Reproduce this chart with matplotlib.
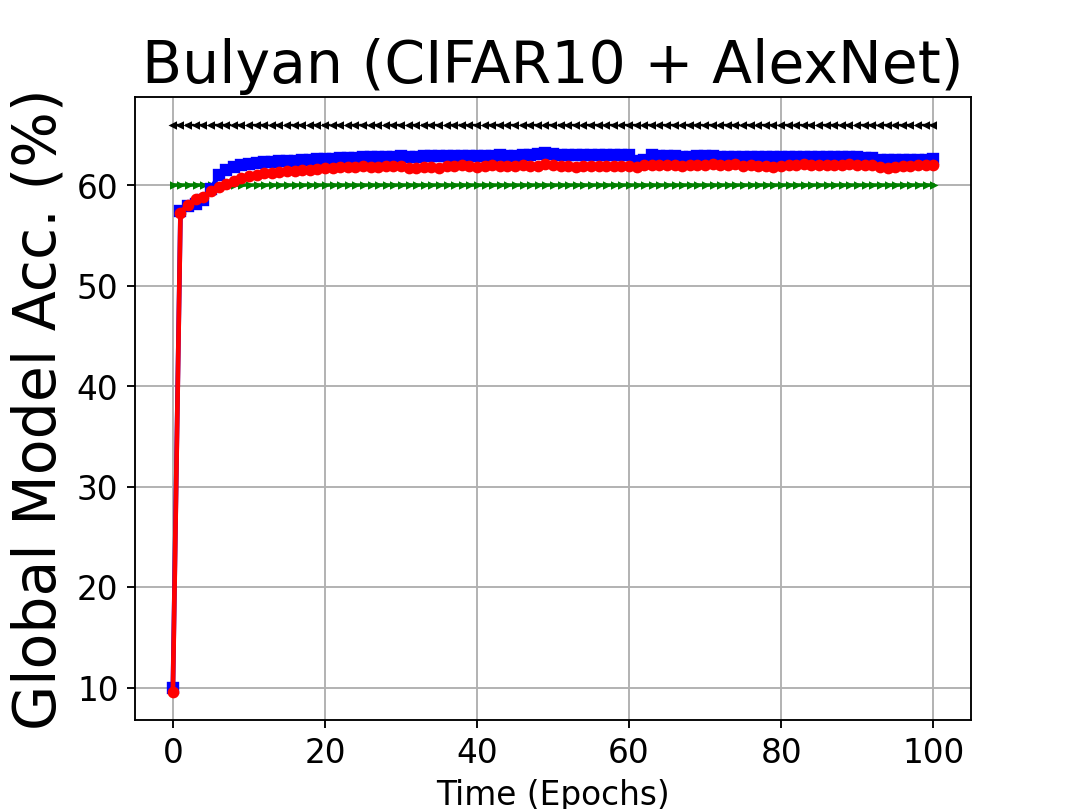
import matplotlib
matplotlib.use('Agg')
import matplotlib.pyplot as plt
import numpy as np

epochs = np.arange(0, 101)

# accuracy values
no_attack = [66.0] * 101
baseline = [60.0] * 101

blue_acc = [10.0, 57.5, 58.0, 58.2, 58.5, 59.6, 61.0, 61.5, 61.8, 62.0,
            62.1, 62.2, 62.3, 62.3, 62.4, 62.4, 62.4, 62.5, 62.5, 62.6,
            62.6, 62.6, 62.7, 62.7, 62.7, 62.8, 62.8, 62.8, 62.8, 62.8,
            62.9, 62.8, 62.8, 62.9, 62.9, 62.9, 62.9, 62.9, 62.9, 62.9,
            62.9, 62.9, 62.9, 63.0, 62.9, 62.9, 63.0, 63.0, 63.1, 63.2,
            63.1, 63.0, 63.0, 63.0, 63.0, 63.0, 63.0, 63.0, 63.0, 63.0,
            63.0, 62.4, 62.5, 63.0, 62.9, 62.9, 62.9, 62.8, 62.8, 62.9,
            62.9, 62.9, 62.8, 62.8, 62.8, 62.8, 62.8, 62.8, 62.8, 62.8,
            62.8, 62.8, 62.8, 62.8, 62.8, 62.8, 62.8, 62.8, 62.8, 62.8,
            62.8, 62.7, 62.7, 62.5, 62.5, 62.5, 62.5, 62.5, 62.5, 62.5,
            62.6]

red_acc = [9.6, 57.3, 58.1, 58.6, 58.8, 59.4, 59.8, 60.1, 60.4, 60.7,
           60.9, 61.0, 61.2, 61.2, 61.3, 61.4, 61.4, 61.5, 61.5, 61.6,
           61.7, 61.7, 61.8, 61.8, 61.8, 61.9, 61.8, 61.8, 61.9, 61.9,
           61.9, 61.7, 61.7, 61.8, 61.8, 61.7, 61.9, 61.9, 62.0, 61.9,
           61.8, 61.9, 62.0, 61.9, 61.9, 61.9, 62.0, 61.9, 61.9, 62.1,
           62.0, 61.9, 61.9, 61.8, 61.9, 61.9, 61.9, 61.9, 61.9, 61.9,
           61.9, 61.8, 62.0, 62.0, 62.0, 62.0, 62.0, 61.9, 62.0, 62.0,
           62.0, 62.1, 62.0, 62.0, 62.1, 61.9, 62.0, 61.9, 61.9, 61.8,
           61.9, 62.0, 62.0, 62.1, 62.0, 62.0, 62.0, 62.0, 62.0, 62.1,
           62.0, 62.0, 62.0, 61.8, 61.7, 61.8, 61.9, 61.9, 62.0, 62.0,
           62.0]

fig = plt.figure(figsize=(6.4, 4.8), dpi=168.6)
plt.plot(epochs, no_attack, 'k--', marker='<', markersize=2, linewidth=1)
plt.plot(epochs, baseline, 'g-', marker='>', markersize=2, linewidth=1.5)
plt.plot(epochs, blue_acc, 'b-', marker='s', markersize=4, linewidth=2)
plt.plot(epochs, red_acc, 'r-', marker='o', markersize=4, linewidth=2)

plt.title('Bulyan (CIFAR10 + AlexNet)', fontsize=25)
plt.ylabel('Global Model Acc. (%)', fontsize=25)
plt.xlabel('Time (Epochs)', fontsize=14)
plt.xticks(fontsize=14)
plt.yticks(fontsize=14)
plt.grid(True)

plt.savefig('out.png', dpi=168.6)
